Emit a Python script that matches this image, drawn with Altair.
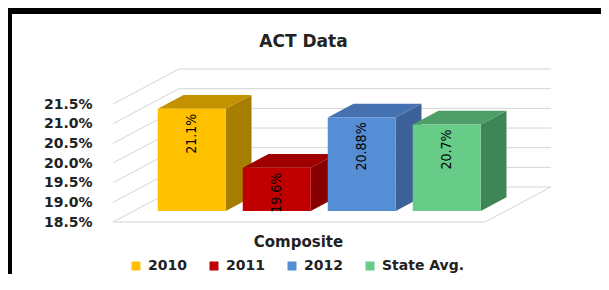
import altair as alt
import pandas as pd

# ---- data ----
categories = ["2010", "2011", "2012", "State Avg."]
values = [21.1, 19.6, 20.88, 20.7]
label_texts = ["21.1%", "19.6%", "20.88%", "20.7%"]
tick_values = [18.5, 19.0, 19.5, 20.0, 20.5, 21.0, 21.5]
front_colors = ["#FFC000", "#C00000", "#558ED5", "#66CC88"]
top_colors = ["#C29200", "#9E0000", "#4671B0", "#4E9E68"]
side_colors = ["#A67E00", "#870000", "#3C6299", "#3F8656"]

# ---- 3D layout (in scale units) ----
BASE = 18.5
X_DOMAIN = [-1.871, 5.059]
Y_DOMAIN = [17.178, 23.789]
FLOOR_L, FLOOR_R = -0.682, 3.694
WALL_DX, WALL_DY = 0.776, 0.890      # full depth of the chart box
FACE_DX, FACE_DY = 0.244, 0.280      # bar front face depth position
BAR_DX, BAR_DY = 0.303, 0.347        # bar depth
HALF_W = 0.4

# gridlines / walls
grid_rows = []
for t in tick_values:
    grid_rows.append(dict(x=FLOOR_L + WALL_DX, x2=FLOOR_R + WALL_DX, y=t + WALL_DY, y2=t + WALL_DY))
    grid_rows.append(dict(x=FLOOR_L, x2=FLOOR_L + WALL_DX, y=t, y2=t + WALL_DY))
grid_rows.append(dict(x=FLOOR_L, x2=FLOOR_R, y=BASE, y2=BASE))
grid_rows.append(dict(x=FLOOR_R, x2=FLOOR_R + WALL_DX, y=BASE, y2=BASE + WALL_DY))
grid_df = pd.DataFrame(grid_rows)

front_rows, side_rows, top_rows, label_rows = [], [], [], []
for i, (cat, v) in enumerate(zip(categories, values)):
    x0 = i - HALF_W + FACE_DX
    x1 = i + HALF_W + FACE_DX
    yb = BASE + FACE_DY
    yt = v + FACE_DY
    front_rows.append(dict(series=cat, x=x0, x2=x1, y=yb, y2=yt))
    side_rows.append(dict(series=cat, c=side_colors[i], x=x1, y=yt, y2=yb))
    side_rows.append(dict(series=cat, c=side_colors[i], x=x1 + BAR_DX, y=yt + BAR_DY, y2=yb + BAR_DY))
    top_rows.append(dict(series=cat, c=top_colors[i], y=yt, x=x0, x2=x1))
    top_rows.append(dict(series=cat, c=top_colors[i], y=yt + BAR_DY, x=x0 + BAR_DX, x2=x1 + BAR_DX))
    label_rows.append(dict(series=cat, x=i + FACE_DX, y=yt, label=label_texts[i]))

front_df = pd.DataFrame(front_rows)
side_df = pd.DataFrame(side_rows)
top_df = pd.DataFrame(top_rows)
label_df = pd.DataFrame(label_rows)

XS = alt.Scale(domain=X_DOMAIN, nice=False, zero=False)
YS = alt.Scale(domain=Y_DOMAIN, nice=False, zero=False)
X_AX = alt.Axis(labels=False, ticks=False, domain=False, grid=False, title="Composite",
                titleX=286, titleY=-28, titleBaseline="alphabetic", titleAlign="center",
                titleFontSize=15, titleFontWeight="bold", titleColor="#222222", titleFont="DejaVu Sans")
Y_AX = alt.Axis(values=tick_values, labelExpr="format(datum.value, '.1f') + '%'",
                ticks=False, tickSize=0, domain=False, grid=False, title=None, offset=-80,
                labelPadding=0, labelFontSize=14, labelFontWeight="bold", labelColor="#222222",
                labelFont="DejaVu Sans")

def X(f):
    return alt.X(f, type="quantitative", scale=XS, axis=X_AX)

def Y(f):
    return alt.Y(f, type="quantitative", scale=YS, axis=Y_AX)

grid = alt.Chart(grid_df).mark_rule(color="#d4d4d4", strokeWidth=1).encode(
    x=X("x"), x2="x2", y=Y("y"), y2="y2")

side = alt.Chart(side_df).mark_area(orient="vertical", opacity=1).encode(
    x=X("x"), y=Y("y"), y2="y2", detail="series:N",
    color=alt.Color("c:N", scale=None))

top = alt.Chart(top_df).mark_area(orient="horizontal", opacity=1).encode(
    y=Y("y"), x=X("x"), x2="x2", detail="series:N",
    color=alt.Color("c:N", scale=None))

front = alt.Chart(front_df).mark_rect(strokeWidth=0).encode(
    x=X("x"), x2="x2", y=Y("y"), y2="y2",
    color=alt.Color("series:N", scale=alt.Scale(domain=categories, range=front_colors),
                    legend=alt.Legend(orient="none", legendX=117, legendY=245, direction="horizontal",
                                      columns=4, title=None, symbolType="square", symbolSize=81,
                                      symbolStrokeWidth=0, labelFontSize=14, labelFontWeight="bold",
                                      labelColor="#222222", labelFont="DejaVu Sans", labelOffset=5,
                                      columnPadding=20, padding=0)))

labels = alt.Chart(label_df).mark_text(angle=270, align="right", baseline="middle", dx=-5,
                                       font="DejaVu Sans Condensed", fontSize=14,
                                       color="#000000").encode(
    x=X("x"), y=Y("y"), text="label:N")

chart = alt.layer(grid, side, top, front, labels).resolve_scale(color="independent").properties(
    width=589, height=260, autosize="none",
    padding={"left": 4, "top": 6, "right": 0, "bottom": 0},
    background="black",
    title=alt.TitleParams("ACT Data", fontSize=17, fontWeight="bold", font="DejaVu Sans",
                          anchor="middle", frame="group", offset=-50, baseline="alphabetic",
                          color="#222222", dx=-3),
).configure_view(fill="white", strokeWidth=0)

chart.save("out.html", embed_options={"renderer": "svg", "actions": False})
